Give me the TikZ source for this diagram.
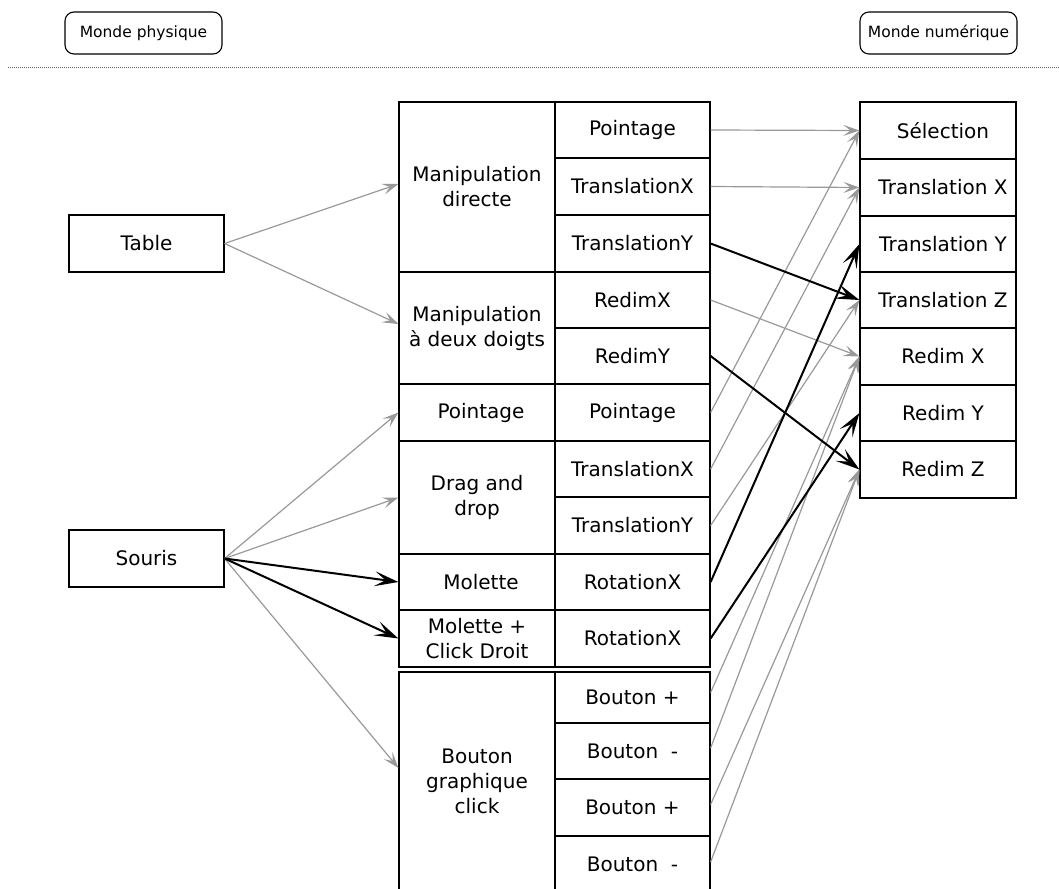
\documentclass[tikz,border=0pt]{standalone}
\usepackage{fontspec}
\setmainfont{DejaVu Sans}
\usetikzlibrary{arrows.meta,calc}
\begin{document}
\begin{tikzpicture}[x=1pt,y=-1pt,
  cellbox/.style={draw=black, line width=1.2pt, inner sep=0pt, align=center, font=\fontsize{20}{25}\selectfont},
  colone/.style={cellbox, minimum width=156pt},
  coltwo/.style={cellbox, minimum width=155pt},
  colthree/.style={cellbox, minimum width=156pt},
  worldbox/.style={draw=black, line width=1.1pt, rounded corners=9pt, inner sep=0pt, minimum width=157pt, minimum height=42pt, font=\fontsize{15.5}{18}\selectfont},
  garrow/.style={draw=black!40, line width=1.2pt, -{Stealth[length=16pt,width=11pt,inset=7pt]}},
  barrow/.style={draw=black, line width=2pt, -{Stealth[length=24pt,width=15pt,inset=11pt]}},
]
\useasboundingbox (0,0) rectangle (1059,888);
\clip (0,0) rectangle (1059,888);

% header
\node[worldbox] (phys) at (143.5,33) {Monde physique};
\node[worldbox] (num) at (938.5,33) {Monde numérique};
\coordinate (sepL) at (8,67.5);
\coordinate (sepR) at (1059,67.5);
\draw[black!60, line width=0.8pt, dash pattern=on 1pt off 1pt] (sepL) -- (sepR);

% physical devices
\node[cellbox, minimum width=155pt, minimum height=57pt] (table) at (146.5,243.5) {Table};
\node[cellbox, minimum width=155pt, minimum height=57pt] (souris) at (146.5,558.5) {Souris};

% column 1
\node[colone, minimum height=170pt] (md) at (477,187) {Manipulation\\directe};
\node[colone, minimum height=112pt] (m2) at (477,328) {Manipulation\\à deux doigts};
\node[colone, minimum height=57pt] (pt1) at (477,412.5) {\hspace*{8pt}Pointage};
\node[colone, minimum height=113pt] (dd) at (477,497.5) {Drag and\\drop};
\node[colone, minimum height=56pt] (mol) at (477,582) {\hspace*{8pt}Molette};
\node[colone, minimum height=57pt] (mcd) at (477,638.5) {Molette +\\Click Droit};
\node[colone, minimum height=218pt] (bgc) at (477,781) {Bouton\\graphique\\click};

% column 2
\node[coltwo, minimum height=56pt] (c1) at (632.5,130) {Pointage};
\node[coltwo, minimum height=57pt] (c2) at (632.5,186.5) {TranslationX};
\node[coltwo, minimum height=57pt] (c3) at (632.5,243.5) {TranslationY};
\node[coltwo, minimum height=56pt] (c4) at (632.5,300) {RedimX};
\node[coltwo, minimum height=56pt] (c5) at (632.5,356) {RedimY};
\node[coltwo, minimum height=57pt] (c6) at (632.5,412.5) {Pointage};
\node[coltwo, minimum height=56pt] (c7) at (632.5,469) {TranslationX};
\node[coltwo, minimum height=57pt] (c8) at (632.5,525.5) {TranslationY};
\node[coltwo, minimum height=56pt] (c9) at (632.5,582) {RotationX};
\node[coltwo, minimum height=57pt] (c10) at (632.5,638.5) {RotationX};
\node[coltwo, minimum height=51pt] (b1) at (632.5,697.5) {Bouton +};
\node[coltwo, minimum height=56pt] (b2) at (632.5,751) {Bouton\ \ -};
\node[coltwo, minimum height=57pt] (b3) at (632.5,807.5) {Bouton +};
\node[coltwo, minimum height=56pt] (b4) at (632.5,864) {Bouton\ \ -};

% digital world
\node[colthree, minimum height=57pt] (r1) at (938,130.5) {\hspace*{10pt}Sélection};
\node[colthree, minimum height=57pt] (r2) at (938,187.5) {\hspace*{10pt}Translation X};
\node[colthree, minimum height=56pt] (r3) at (938,244) {\hspace*{10pt}Translation Y};
\node[colthree, minimum height=56pt] (r4) at (938,300) {\hspace*{10pt}Translation Z};
\node[colthree, minimum height=57pt] (r5) at (938,356.5) {\hspace*{10pt}Redim X};
\node[colthree, minimum height=56pt] (r6) at (938,413) {\hspace*{10pt}Redim Y};
\node[colthree, minimum height=57pt] (r7) at (938,469.5) {\hspace*{10pt}Redim Z};

% gray connectors
\draw[garrow] (table.east) -- ([yshift=3pt]md.west);
\draw[garrow] (table.east) -- ([yshift=4pt]m2.west);
\draw[garrow] (souris.east) -- (pt1.west);
\draw[garrow] (souris.east) -- (dd.west);
\draw[garrow] (souris.east) -- ([yshift=13pt]bgc.west);

\draw[garrow] (c1.east) -- (r1.west);
\draw[garrow] (c2.east) -- (r2.west);
\draw[garrow] (c4.east) -- (r5.west);
\draw[garrow] (c6.east) -- (r1.west);
\draw[garrow] (c7.east) -- (r2.west);
\draw[garrow] (c8.east) -- (r4.west);
\draw[garrow] ([yshift=5pt]b1.east) -- (r5.west);
\draw[garrow] ([yshift=3pt]b2.east) -- (r5.west);
\draw[garrow] ([yshift=3pt]b3.east) -- (r7.west);
\draw[garrow] ([yshift=2pt]b4.east) -- (r7.west);

% black connectors
\draw[barrow] (souris.east) -- (mol.west);
\draw[barrow] (souris.east) -- (mcd.west);
\draw[barrow] (c3.east) -- (r4.west);
\draw[barrow] (c5.east) -- (r7.west);
\draw[barrow] (c9.east) -- (r3.west);
\draw[barrow] (c10.east) -- (r6.west);
\end{tikzpicture}
\end{document}
